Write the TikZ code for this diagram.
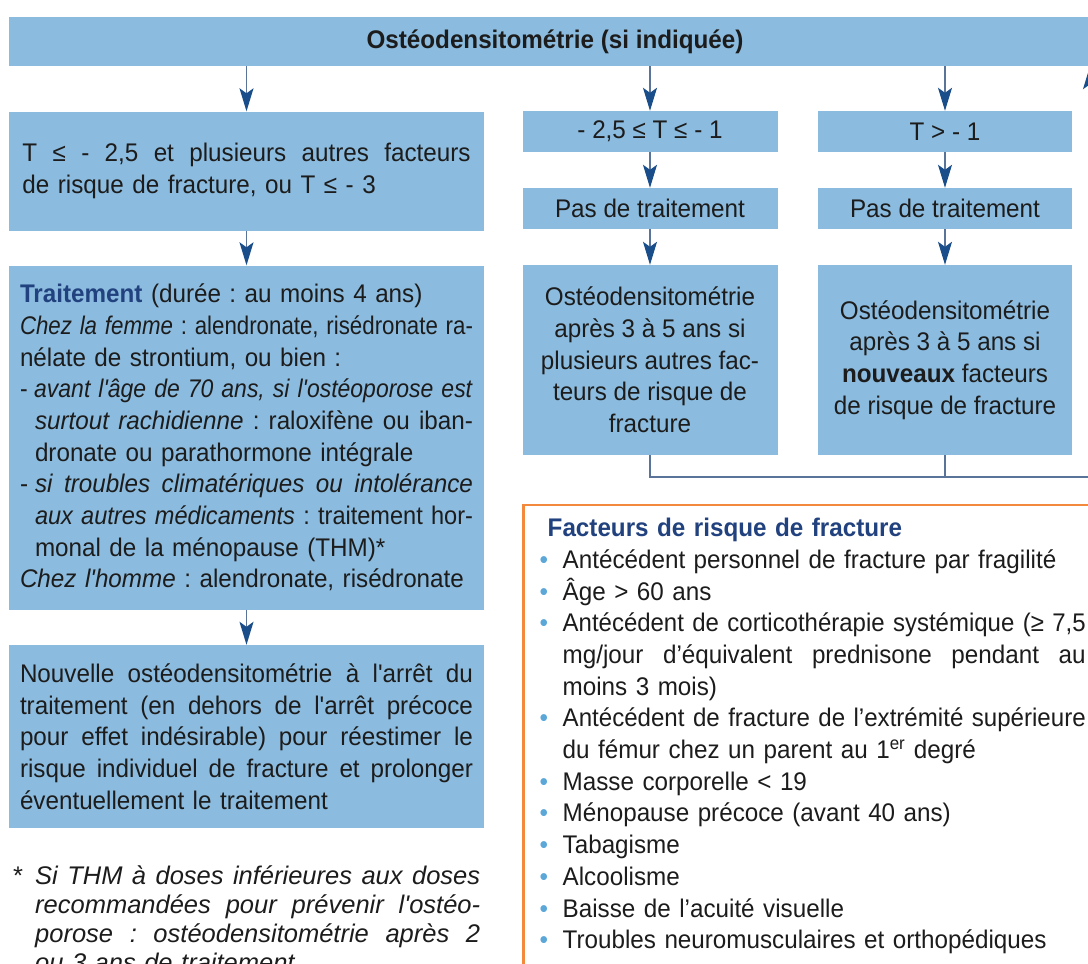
\documentclass[tikz,border=0pt]{standalone}
\usepackage{amsmath}
\usepackage{amssymb}
\usepackage{graphicx}
\usepackage{fontspec}
\usepackage{tikz}
\usetikzlibrary{arrows.meta}
\setmainfont{Liberation Sans}[FakeStretch=0.95, Ligatures=TeXOff]
\newfontfamily\notefont{Liberation Sans}

\definecolor{boxblue}{HTML}{8BBBDE}
\definecolor{tipblue}{HTML}{1A4E8A}
\definecolor{lineblue}{HTML}{5A7399}
\definecolor{headblue}{HTML}{21427E}
\definecolor{dotblue}{HTML}{5AA7D8}
\definecolor{riskorange}{HTML}{F3893D}
\definecolor{inkgrey}{HTML}{1C1C1C}

% one justified line inside a box
\newsavebox\jlinebox
\newlength\jlinew
\newcommand{\jline}[2][0pt]{%
  \setlength\jlinew{\dimexpr\hsize-#1\relax}%
  \sbox\jlinebox{#2}%
  \leavevmode\hspace*{#1}%
  \ifdim\wd\jlinebox>\jlinew
    \resizebox{\jlinew}{\height}{\usebox\jlinebox}%
  \else
    \hbox to\jlinew{\spaceskip=\fontdimen2\font plus 1fil\xspaceskip=\spaceskip #2}%
  \fi}
\newcommand{\dotitem}{\leavevmode\rlap{\color{dotblue}\textbullet}}

\begin{document}
\begin{tikzpicture}[x=1pt, y=-1pt,
  every node/.style={font=\fontsize{25.5}{31.7}\selectfont\frenchspacing, text=inkgrey, inner sep=0pt},
  bluebox/.style={fill=boxblue},
  flow/.style={draw=lineblue, line width=1.3pt, -{Stealth[length=23pt, width=14pt, inset=5pt, color=tipblue]}},
  link/.style={draw=lineblue, line width=1.3pt}]
\useasboundingbox (0,0) rectangle (1088,964);
\fill[white] (0,0) rectangle (1088,964);
\clip (0,0) rectangle (1088,964);

% top box
\node[bluebox, minimum width=1092pt, minimum height=49pt] (dens) at (555,41.5) {\bfseries Ostéodensitométrie (si indiquée)};

% left column
\node[bluebox, minimum width=475pt, minimum height=119pt, text width=448pt, align=left] (low) at (246.5,171) {%
\jline{T ≤ - 2,5 et plusieurs autres facteurs}\\
de risque de fracture, ou T ≤ - 3};
\node[bluebox, minimum width=475pt, minimum height=344pt, text width=453pt, align=left] (treat) at (246.5,437.5) {%
{\color{headblue}\bfseries Traitement} (durée : au moins 4 ans)\\
\jline{\textit{Chez la femme} : alendronate, risédronate ra-}\\
nélate de strontium, ou bien :\\
\jline{\makebox[15pt][l]{-}\textit{avant l'âge de 70 ans, si l'ostéoporose est}}\\
\jline[15pt]{\textit{surtout rachidienne} : raloxifène ou iban-}\\
\hspace*{15pt}dronate ou parathormone intégrale\\
\jline{\makebox[15pt][l]{-}\textit{si troubles climatériques ou intolérance}}\\
\jline[15pt]{\textit{aux autres médicaments} : traitement hor-}\\
\hspace*{15pt}monal de la ménopause (THM)*\\
\textit{Chez l'homme} : alendronate, risédronate};
\node[bluebox, minimum width=475pt, minimum height=183pt, text width=453pt, align=left] (again) at (246.5,736.5) {%
\jline{Nouvelle ostéodensitométrie à l'arrêt du}\\
\jline{traitement (en dehors de l'arrêt précoce}\\
\jline{pour effet indésirable) pour réestimer le}\\
\jline{risque individuel de fracture et prolonger}\\
éventuellement le traitement};
% footnote
\node[anchor=north west, text width=467pt, align=left, font=\notefont\fontsize{25.5}{29}\selectfont\frenchspacing] (note) at (13,866) {%
\leavevmode\rlap{*}\jline[22pt]{\itshape Si THM à doses inférieures aux doses}\\
\jline[22pt]{\itshape recommandées pour prévenir l'ostéo-}\\
\jline[22pt]{\itshape porose : ostéodensitométrie après 2}\\
\hspace*{22pt}\textit{ou 3 ans de traitement}};

% right columns
\node[bluebox, minimum width=255pt, minimum height=41pt] (midT) at (650,131.5) {- 2,5 ≤ T ≤ - 1};
\node[bluebox, minimum width=255pt, minimum height=41pt] (midno) at (650,208.5) {Pas de traitement};
\node[bluebox, minimum width=255pt, minimum height=190pt, align=center] (midctrl) at (650,360) {%
Ostéodensitométrie\\après 3 à 5 ans si\\plusieurs autres fac-\\teurs de risque de\\fracture};
\node[bluebox, minimum width=254pt, minimum height=41pt] (highT) at (945,131.5) {T > - 1};
\node[bluebox, minimum width=254pt, minimum height=41pt] (highno) at (945,208.5) {Pas de traitement};
\node[bluebox, minimum width=254pt, minimum height=190pt, align=center] (highctrl) at (945,360) {%
Ostéodensitométrie\\après 3 à 5 ans si\\\textbf{nouveaux} facteurs\\de risque de fracture};

% risk factors
\draw[riskorange, line width=2.5pt] (523.5,505) rectangle (1120,1010);
\node[anchor=north west, text width=546pt, align=left] (risklist) at (539.5,518) {%
\hspace*{8pt}{\color{headblue}\bfseries Facteurs de risque de fracture}\\
\dotitem\hspace*{23pt}Antécédent personnel de fracture par fragilité\\
\dotitem\hspace*{23pt}Âge > 60 ans\\
\dotitem\jline[23pt]{Antécédent de corticothérapie systémique (≥ 7,5}\\
\jline[23pt]{mg/jour d’équivalent prednisone pendant au}\\
\hspace*{23pt}moins 3 mois)\\
\dotitem\jline[23pt]{Antécédent de fracture de l’extrémité supérieure}\\
\hspace*{23pt}du fémur chez un parent au 1\textsuperscript{er} degré\\
\dotitem\hspace*{23pt}Masse corporelle < 19\\
\dotitem\hspace*{23pt}Ménopause précoce (avant 40 ans)\\
\dotitem\hspace*{23pt}Tabagisme\\
\dotitem\hspace*{23pt}Alcoolisme\\
\dotitem\hspace*{23pt}Baisse de l’acuité visuelle\\
\dotitem\hspace*{23pt}Troubles neuromusculaires et orthopédiques};

% arrows
\coordinate (back) at (1090,477);
\draw[flow] (low.north |- dens.south) -- (low.north);
\draw[flow] (low.south) -- (treat.north);
\draw[flow] (treat.south) -- (again.north);
\draw[flow] (midT.north |- dens.south) -- (midT.north);
\draw[flow] (midT.south) -- (midno.north);
\draw[flow] (midno.south) -- (midctrl.north);
\draw[flow] (highT.north |- dens.south) -- (highT.north);
\draw[flow] (highT.south) -- (highno.north);
\draw[flow] (highno.south) -- (highctrl.north);
\draw[flow] (midctrl.south) |- (back) -- (back |- dens.south);
\draw[link] (highctrl.south) -- (highctrl.south |- back);
\end{tikzpicture}
\end{document}
